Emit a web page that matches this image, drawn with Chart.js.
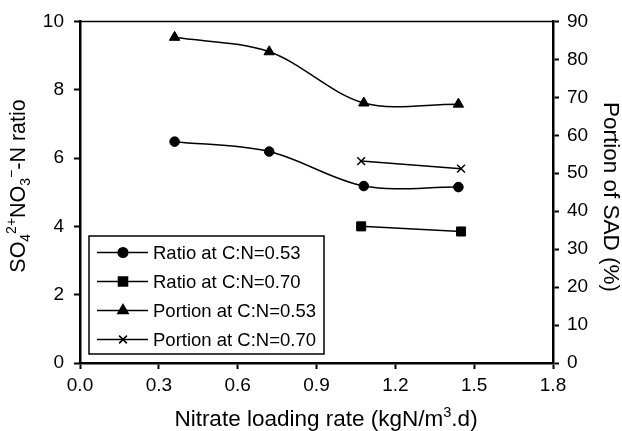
<!DOCTYPE html>
<html>
<head>
<meta charset="utf-8">
<script src="https://cdn.jsdelivr.net/npm/chart.js@4.4.0/dist/chart.umd.min.js"></script>
<style>
  body { margin: 0; background: #fff; }
  #wrap { width: 622px; height: 431px; }
</style>
</head>
<body>
<div id="wrap"><canvas id="chart" width="622" height="431"></canvas></div>
<script>
// values
const xLoad53 = [0.36, 0.72, 1.08, 1.44];
const xLoad70 = [1.07, 1.45];
const ratio53 = [6.48, 6.19, 5.18, 5.15];
const ratio70 = [4.0, 3.85];
const portion53 = [85.8, 82.0, 68.5, 68.2];
const portion70 = [53.2, 51.2];

const xTicks = [0, 0.3, 0.6, 0.9, 1.2, 1.5, 1.8];
const leftTicks = [0, 2, 4, 6, 8, 10];
const rightTicks = [0, 10, 20, 30, 40, 50, 60, 70, 80, 90];

const seriesLabels = ['Ratio at C:N=0.53', 'Ratio at C:N=0.70', 'Portion at C:N=0.53', 'Portion at C:N=0.70'];

const FONT = "'Liberation Sans', Arial, sans-serif";

const pts = (xs, ys) => xs.map((x, i) => ({ x: x, y: ys[i] }));

const series = (label, data, axis, style, radius, tension) => ({
    label: label,
    data: data,
    yAxisID: axis,
    borderColor: '#000',
    backgroundColor: '#000',
    borderWidth: 1.5,
    pointStyle: style,
    pointRadius: radius,
    pointBorderWidth: style === 'crossRot' ? 1.5 : 1,
    pointBackgroundColor: '#000',
    pointBorderColor: '#000',
    tension: tension,
    clip: false
});

// draw text with sub/superscripts, parts: [text, kind]
function richWidth(ctx, parts, size) {
    let w = 0;
    parts.forEach(([t, k]) => {
        ctx.font = (k ? size * 0.65 : size) + 'px ' + FONT;
        w += ctx.measureText(t).width;
    });
    return w;
}
function drawRich(ctx, parts, size) {
    let w = richWidth(ctx, parts, size);
    let x = -w / 2;
    parts.forEach(([t, k]) => {
        ctx.font = (k ? size * 0.65 : size) + 'px ' + FONT;
        let dy = k === 'sub' ? size * 0.22 : k === 'sup' ? -size * 0.42 : 0;
        ctx.fillText(t, x, dy);
        x += ctx.measureText(t).width;
    });
}

const titlesPlugin = {
    id: 'titles',
    afterDraw(chart) {
        const ctx = chart.ctx;
        const a = chart.chartArea;
        ctx.save();
        ctx.fillStyle = '#000';
        ctx.textBaseline = 'alphabetic';
        ctx.textAlign = 'left';

        // top frame line
        ctx.strokeStyle = '#000';
        ctx.lineWidth = 1.5;
        ctx.beginPath();
        ctx.moveTo(a.left, a.top);
        ctx.lineTo(a.right, a.top);
        ctx.stroke();

        // x title
        ctx.save();
        ctx.translate(326, 426);
        drawRich(ctx, [['Nitrate loading rate (kgN/m'], ['3', 'sup'], ['.d)']], 22.5);
        ctx.restore();

        // left title
        ctx.save();
        ctx.translate(25, 186);
        ctx.rotate(-Math.PI / 2);
        drawRich(ctx, [['SO'], ['4', 'sub'], ['2+', 'sup'], ['NO'], ['3', 'sub'], ['\u2212', 'sup'], ['-N ratio']], 21.5);
        ctx.restore();

        // right title
        ctx.save();
        ctx.translate(604, 197);
        ctx.rotate(Math.PI / 2);
        drawRich(ctx, [['Portion of SAD (%)']], 22.5);
        ctx.restore();

        // legend inside the plot
        const bx = 89, by = 236, bw = 235, bh = 118;
        ctx.lineWidth = 1.5;
        ctx.fillStyle = '#fff';
        ctx.fillRect(bx, by, bw, bh);
        ctx.strokeRect(bx, by, bw, bh);
        ctx.font = '18.5px ' + FONT;
        ctx.textBaseline = 'middle';
        chart.data.datasets.forEach((ds, i) => {
            const y = 252.5 + i * 29;
            ctx.lineWidth = 1.5;
            ctx.strokeStyle = '#000';
            ctx.beginPath();
            ctx.moveTo(97, y);
            ctx.lineTo(148, y);
            ctx.stroke();
            ctx.fillStyle = '#000';
            Chart.helpers.drawPoint(ctx, {
                pointStyle: ds.pointStyle,
                radius: ds.pointRadius,
                rotation: 0,
                borderWidth: ds.pointBorderWidth
            }, 123, y);
            ctx.fillStyle = '#000';
            ctx.font = '18.5px ' + FONT;
            ctx.fillText(seriesLabels[i], 153, y + 1);
        });
        ctx.restore();
    }
};

const tickFont = { family: FONT, size: 19 };

new Chart(document.getElementById('chart').getContext('2d'), {
    type: 'line',
    data: {
        datasets: [
            series(seriesLabels[0], pts(xLoad53, ratio53), 'yL', 'circle', 4.8, 0.33),
            series(seriesLabels[1], pts(xLoad70, ratio70), 'yL', 'rect', 6.4, 0),
            series(seriesLabels[2], pts(xLoad53, portion53), 'yR', 'triangle', 6, 0.33),
            series(seriesLabels[3], pts(xLoad70, portion70), 'yR', 'crossRot', 5.5, 0)
        ]
    },
    options: {
        responsive: false,
        animation: false,
        layout: { padding: { top: 16, left: 0, right: 0, bottom: 0 } },
        plugins: { legend: { display: false }, tooltip: { enabled: false } },
        scales: {
            x: {
                type: 'linear',
                min: 0,
                max: 1.8,
                afterBuildTicks: s => { s.ticks = xTicks.map(v => ({ value: v })); },
                afterFit: s => { s.height = 68; },
                ticks: { font: tickFont, color: '#000', padding: 5, maxRotation: 0,
                    callback: v => v.toFixed(1) },
                grid: { drawOnChartArea: false, drawTicks: true, tickLength: 6, tickWidth: 2, tickColor: '#000' },
                border: { display: true, color: '#000', width: 2.5 }
            },
            yL: {
                position: 'left',
                min: 0,
                max: 10,
                afterBuildTicks: s => { s.ticks = leftTicks.map(v => ({ value: v })); },
                afterFit: s => { s.width = 80; },
                ticks: { font: tickFont, color: '#000', padding: 10 },
                grid: { drawOnChartArea: false, drawTicks: true, tickLength: 6, tickWidth: 2, tickColor: '#000' },
                border: { display: true, color: '#000', width: 2.5 }
            },
            yR: {
                position: 'right',
                min: 0,
                max: 90,
                afterBuildTicks: s => { s.ticks = rightTicks.map(v => ({ value: v })); },
                afterFit: s => { s.width = 69; },
                ticks: { font: tickFont, color: '#000', padding: 8 },
                grid: { drawOnChartArea: false, drawTicks: true, tickLength: 6, tickWidth: 2, tickColor: '#000' },
                border: { display: true, color: '#000', width: 2.5 }
            }
        }
    },
    plugins: [titlesPlugin]
});
</script>
</body>
</html>
